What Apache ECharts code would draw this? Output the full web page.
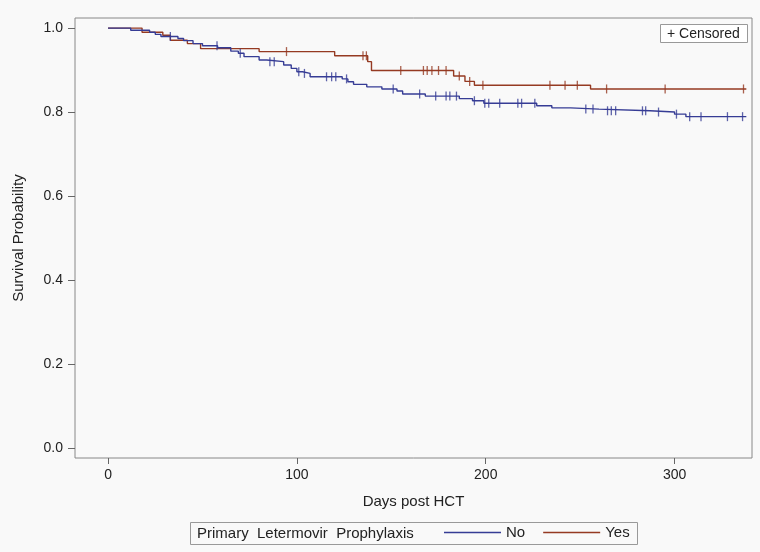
<!DOCTYPE html>
<html><head><meta charset="utf-8">
<script src="https://cdn.jsdelivr.net/npm/echarts@6/dist/echarts.min.js"></script>
<style>html,body{margin:0;padding:0;background:#f9f9f9}#c{width:760px;height:552px}</style>
</head><body><div id="c"></div>
<script>
const xTicks = [0, 100, 200, 300];
const yTicks = [0, 0.2, 0.4, 0.6, 0.8, 1.0];
const groupNames = ['No', 'Yes'];

// Kaplan-Meier step points [day, survival]
const noCurve = [
  [0,1.0],[12,0.995],[22,0.99],[25,0.985],[28,0.98],[37,0.975],[40,0.97],[45,0.963],
  [50,0.958],[58,0.953],[65,0.945],[69,0.94],[72,0.932],[80,0.924],[84,0.92],[93,0.912],
  [97,0.904],[100,0.896],[103,0.892],[107,0.884],[124,0.879],[127,0.872],[130,0.866],
  [137,0.86],[145,0.855],[153,0.85],[156,0.843],[168,0.838],[186,0.832],[193,0.827],
  [199,0.821],[227,0.815],[235,0.81],[245,0.807],[260,0.803],[287,0.8],[300,0.795],
  [306,0.789],[338,0.788]
];
const yesCurve = [
  [0,1.0],[18,0.99],[29,0.983],[33,0.971],[42,0.963],[49,0.951],[80,0.944],[120,0.934],
  [137.5,0.92],[139.5,0.899],[183,0.886],[189,0.873],[194,0.864],[255.5,0.855],[338,0.855]
];
// censoring times (days)
const noCensor = [33,57.7,70,85.7,88,101,104,115.7,118.4,120.6,126.3,151,165,173.5,179,181,184.5,
  194,199.5,201.6,207.4,217,219,226,253,256.8,264.5,266.5,268.8,283,284.7,291.5,301,308,314,328,336];
const yesCensor = [94.5,135,136.8,155,167,169,171.5,175,179,186,191.5,198.5,234,242,248.5,264,295,336.5];

const colNo = '#363c95', colYes = '#953a22';
function survAt(curve, t) {
  let s = curve[0][1];
  for (const p of curve) { if (p[0] <= t) s = p[1]; else break; }
  return s;
}
const noMarks = noCensor.map(t => [t, survAt(noCurve, t)]);
const yesMarks = yesCensor.map(t => [t, survAt(yesCurve, t)]);

const font = 'Liberation Sans, Arial, sans-serif';
const chart = echarts.init(document.getElementById('c'));
chart.setOption({
  backgroundColor: '#f9f9f9',
  animation: false,
  textStyle: { fontFamily: font },
  grid: { left: 75, right: 8, top: 18, bottom: 94, show: true, borderColor: '#888', borderWidth: 1, backgroundColor: 'transparent' },
  xAxis: {
    type: 'value', min: -17.5, max: 341,
    name: 'Days post HCT', nameLocation: 'middle', nameGap: 36,
    nameTextStyle: { fontSize: 15, color: '#222', fontFamily: font },
    axisLine: { show: false, onZero: false },
    axisTick: { show: true, length: 6, customValues: xTicks, lineStyle: { color: '#666' } },
    axisLabel: { customValues: xTicks, fontSize: 14, color: '#222', margin: 10, fontFamily: font },
    splitLine: { show: false }
  },
  yAxis: {
    type: 'value', min: -0.024, max: 1.024,
    name: 'Survival Probability', nameLocation: 'middle', nameGap: 49,
    nameTextStyle: { fontSize: 15, color: '#222', fontFamily: font },
    axisLine: { show: false, onZero: false },
    axisTick: { show: true, length: 7, customValues: yTicks, lineStyle: { color: '#666' } },
    axisLabel: { customValues: yTicks, fontSize: 14, color: '#222', margin: 12, fontFamily: font,
      formatter: v => v.toFixed(1) },
    splitLine: { show: false }
  },
  legend: {
    data: groupNames.map(n => ({ name: n, icon: 'rect' })),
    left: 444, top: 525, itemWidth: 57, itemHeight: 1.4, itemGap: 18,
    textStyle: { fontSize: 15, color: '#222', fontFamily: font }, padding: 0
  },
  graphic: [
    { type: 'rect', shape: { x: 190.5, y: 522.5, width: 447, height: 22 }, style: { fill: 'rgba(0,0,0,0)', stroke: '#999', lineWidth: 1 } },
    { type: 'text', x: 197, y: 533.5, style: { text: 'Primary  Letermovir  Prophylaxis', fontSize: 15, fill: '#222', fontFamily: font, verticalAlign: 'middle' } },
    { type: 'rect', shape: { x: 660.5, y: 24.5, width: 87, height: 18 }, style: { fill: '#fff', stroke: '#999', lineWidth: 1 } },
    { type: 'text', x: 667, y: 34, style: { text: '+ Censored', fontSize: 14, fill: '#222', fontFamily: font, verticalAlign: 'middle' } }
  ],
  series: [
    { name: 'Yes', type: 'line', step: 'end', data: yesCurve, symbol: 'none', color: colYes, lineStyle: { width: 1.4, color: colYes }, z: 2 },
    { name: 'No', type: 'line', step: 'end', data: noCurve, symbol: 'none', color: colNo, lineStyle: { width: 1.4, color: colNo }, z: 3 },
    { name: 'Yes censored', type: 'scatter', data: yesMarks, symbol: 'rect', symbolSize: [1.3, 9], itemStyle: { color: colYes }, z: 4 },
    { name: 'No censored', type: 'scatter', data: noMarks, symbol: 'rect', symbolSize: [1.3, 9], itemStyle: { color: colNo }, z: 4 }
  ]
});
</script>
</body></html>
